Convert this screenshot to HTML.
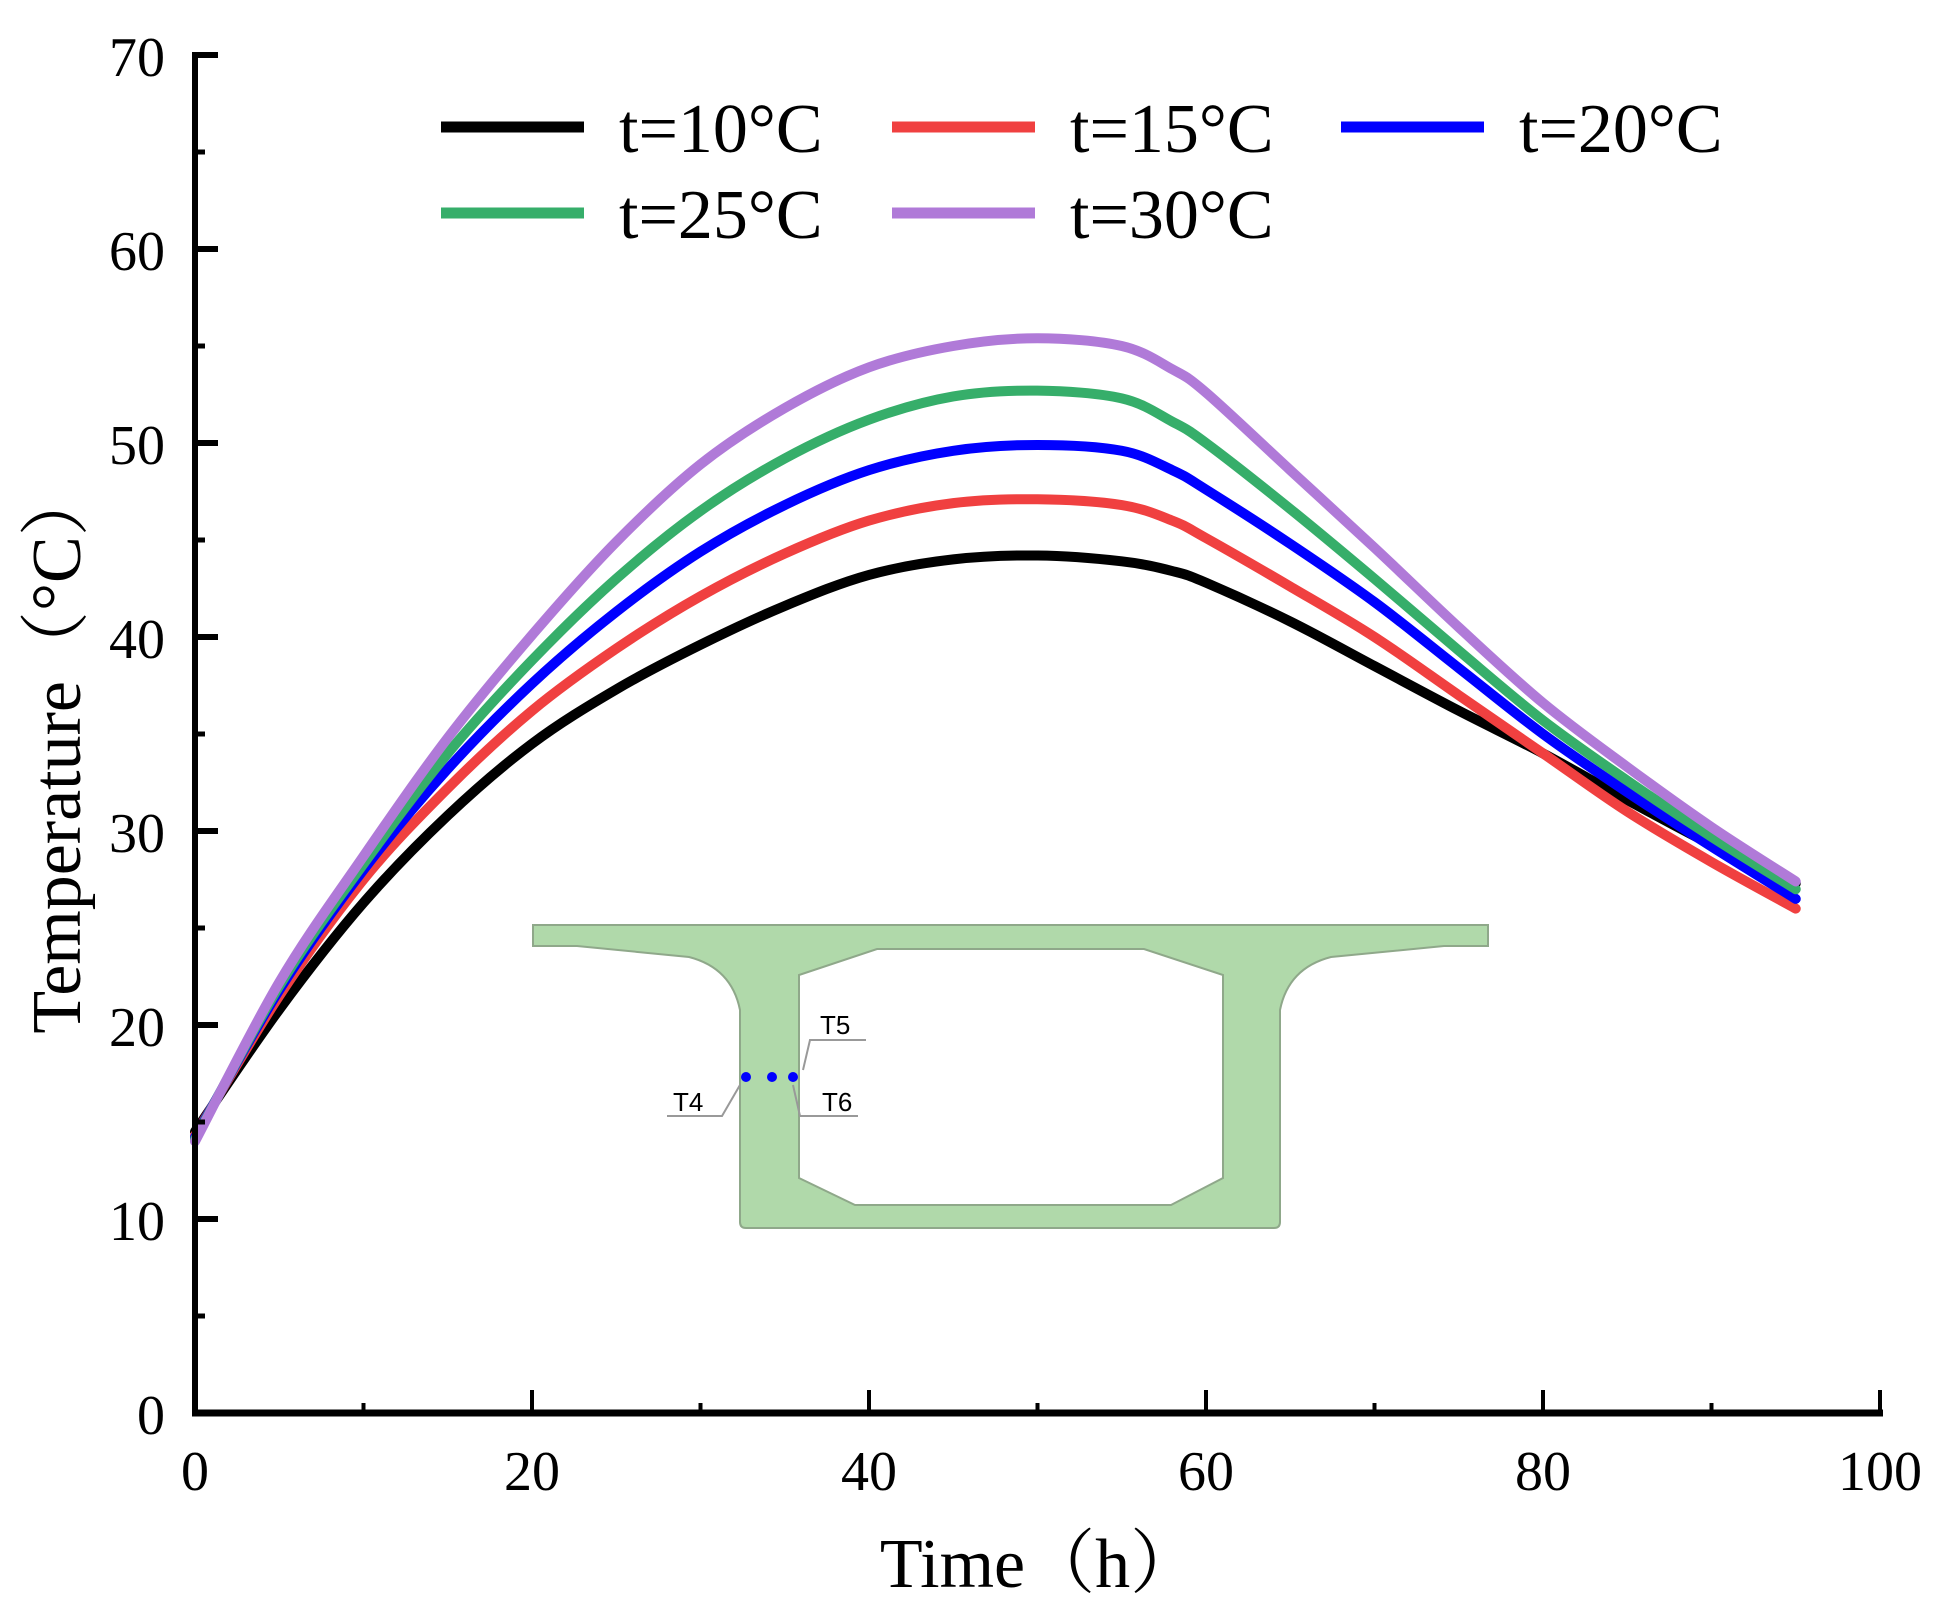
<!DOCTYPE html>
<html><head><meta charset="utf-8"><style>
html,body{margin:0;padding:0;background:#fff;}
svg{display:block;}
text{font-family:"Liberation Serif","Noto Serif CJK SC",serif;fill:#000;}
</style></head><body>
<svg id="chart" width="1941" height="1609" viewBox="0 0 1941 1609" xmlns="http://www.w3.org/2000/svg">
<g id="inset">
<path fill="#b0d9aa" stroke="#8fa88a" stroke-width="2" fill-rule="evenodd"
d="M533,925 L1488,925 L1488,946 L1444,946 L1331,957 C1300,965 1285,985 1280,1010 L1280,1222 Q1280,1228 1274,1228 L746,1228 Q740,1228 740,1222 L740,1010 C735,985 720,965 689,957 L577,946 L533,946 Z
M877,949 L1144,949 L1223,975 L1223,1178 L1171,1205 L855,1205 L799,1178 L799,975 Z"/>
<g stroke="#999" stroke-width="2" fill="none">
<path d="M803,1070 L810,1040 L866,1040"/>
<path d="M740,1085 L722,1116 L667,1116"/>
<path d="M793,1085 L800,1116 L858,1116"/>
</g>
<circle cx="746" cy="1077" r="5" fill="#0000ff"/>
<circle cx="772" cy="1077" r="5" fill="#0000ff"/>
<circle cx="793" cy="1077" r="5" fill="#0000ff"/>
<text x="820" y="1034" font-size="26" style="font-family:'Liberation Sans',sans-serif">T5</text>
<text x="673" y="1111" font-size="26" style="font-family:'Liberation Sans',sans-serif">T4</text>
<text x="822" y="1111" font-size="26" style="font-family:'Liberation Sans',sans-serif">T6</text>
</g>
<g id="series"></g>
<g id="axes"></g>
<g id="legend"></g>
<text x="1040" y="1587" font-size="70" text-anchor="middle">Time（h）</text>
<text transform="translate(80,750) rotate(-90)" font-size="70" text-anchor="middle">Temperature（°C）</text>
</svg>
<script>
const times = [0, 5, 10, 15, 20, 25, 30, 35, 40, 45, 50, 55, 58, 60, 65, 70, 75, 80, 85, 90, 95];
const seriesNames = ["t=10°C","t=15°C","t=20°C","t=25°C","t=30°C"];
const seriesColors = ["#000000","#f04040","#0000ff","#36ae6a","#b07ad8"];
const s10 = [14.5, 20.8, 26.3, 30.8, 34.5, 37.3, 39.6, 41.6, 43.2, 44.0, 44.2, 43.9, 43.4, 42.8, 40.8, 38.5, 36.2, 34.0, 31.6, 29.3, 27.3];
const s15 = [14.3, 21.5, 27.5, 32.2, 36.2, 39.4, 42.1, 44.3, 46.0, 46.9, 47.1, 46.8, 46.0, 45.1, 42.6, 40.0, 37.0, 34.0, 31.0, 28.4, 26.0];
const s20 = [14.2, 21.8, 28.0, 33.2, 37.6, 41.3, 44.4, 46.8, 48.6, 49.6, 49.9, 49.6, 48.6, 47.6, 44.8, 41.8, 38.4, 35.0, 32.0, 29.2, 26.5];
const s25 = [14.1, 22.0, 28.3, 34.0, 38.8, 43.0, 46.5, 49.2, 51.2, 52.4, 52.7, 52.3, 51.1, 50.0, 46.6, 43.0, 39.3, 35.7, 32.6, 29.7, 27.0];
const s30 = [14.0, 22.2, 28.7, 34.8, 40.1, 44.9, 48.9, 51.8, 53.9, 55.0, 55.4, 55.0, 53.8, 52.6, 48.6, 44.6, 40.5, 36.6, 33.3, 30.2, 27.4];
const allSeries = [s10, s15, s20, s25, s30];
const xTicks = [0,20,40,60,80,100];
const yTicks = [0,10,20,30,40,50,60,70];

const NS="http://www.w3.org/2000/svg";
const X0=195, X1=1880, Y0=1413, Y1=55;
function sx(v){return X0+(v-0)/(100-0)*(X1-X0);}
function sy(v){return Y0-(v-0)/(70-0)*(Y0-Y1);}
function mk(tag,attrs,parent){const e=document.createElementNS(NS,tag);for(const k in attrs)e.setAttribute(k,attrs[k]);parent.appendChild(e);return e;}

const sg=document.getElementById('series');
allSeries.forEach((s,i)=>{
  const pts=times.map((t,j)=>[sx(t),sy(s[j])]);
  let d="M"+pts[0][0]+","+pts[0][1];
  for(let j=0;j<pts.length-1;j++){
    const p0=pts[Math.max(0,j-1)],p1=pts[j],p2=pts[j+1],p3=pts[Math.min(pts.length-1,j+2)];
    const c1=[p1[0]+(p2[0]-p0[0])/6,p1[1]+(p2[1]-p0[1])/6];
    const c2=[p2[0]-(p3[0]-p1[0])/6,p2[1]-(p3[1]-p1[1])/6];
    d+=" C"+c1[0]+","+c1[1]+" "+c2[0]+","+c2[1]+" "+p2[0]+","+p2[1];
  }
  const p=mk('path',{d:d,fill:'none',stroke:seriesColors[i],'stroke-width':10,'stroke-linecap':'round','stroke-linejoin':'round'},sg);
  
  
});

const ag=document.getElementById('axes');
let a=mk('line',{x1:X0,y1:Y1-3,x2:X0,y2:Y0+3,stroke:'#000','stroke-width':6},ag);


a=mk('line',{x1:X0-3,y1:Y0,x2:X1+3,y2:Y0,stroke:'#000','stroke-width':7},ag);


for(let v=0;v<=70;v+=5){
  const major=v%10===0;
  const t=mk('line',{x1:X0,y1:sy(v),x2:X0+(major?23:10),y2:sy(v),stroke:'#000','stroke-width':major?6:5},ag);
  
  
}
for(let v=0;v<=100;v+=10){
  const major=v%20===0;
  const t=mk('line',{x1:sx(v),y1:Y0,x2:sx(v),y2:Y0-(major?23:10),stroke:'#000','stroke-width':4},ag);
  
  
}
yTicks.forEach(v=>{
  const t=mk('text',{x:165,y:sy(v)+21,'font-size':56,'text-anchor':'end'},ag);
  t.textContent=v;
  
  
});
xTicks.forEach(v=>{
  const t=mk('text',{x:sx(v),y:1490,'font-size':56,'text-anchor':'middle'},ag);
  t.textContent=v;
  
  
});

const lg=document.getElementById('legend');
const lx=[441,892,1341], ly=[127,213];
seriesNames.forEach((n,i)=>{
  const c=i%3, r=Math.floor(i/3);
  const l=mk('line',{x1:lx[c],y1:ly[r],x2:lx[c]+143,y2:ly[r],stroke:seriesColors[i],'stroke-width':11},lg);
  
  
  const t=mk('text',{x:lx[c]+178,y:ly[r]+25,'font-size':70},lg);
  t.textContent=n;
  
  
});
</script>
</body></html>
